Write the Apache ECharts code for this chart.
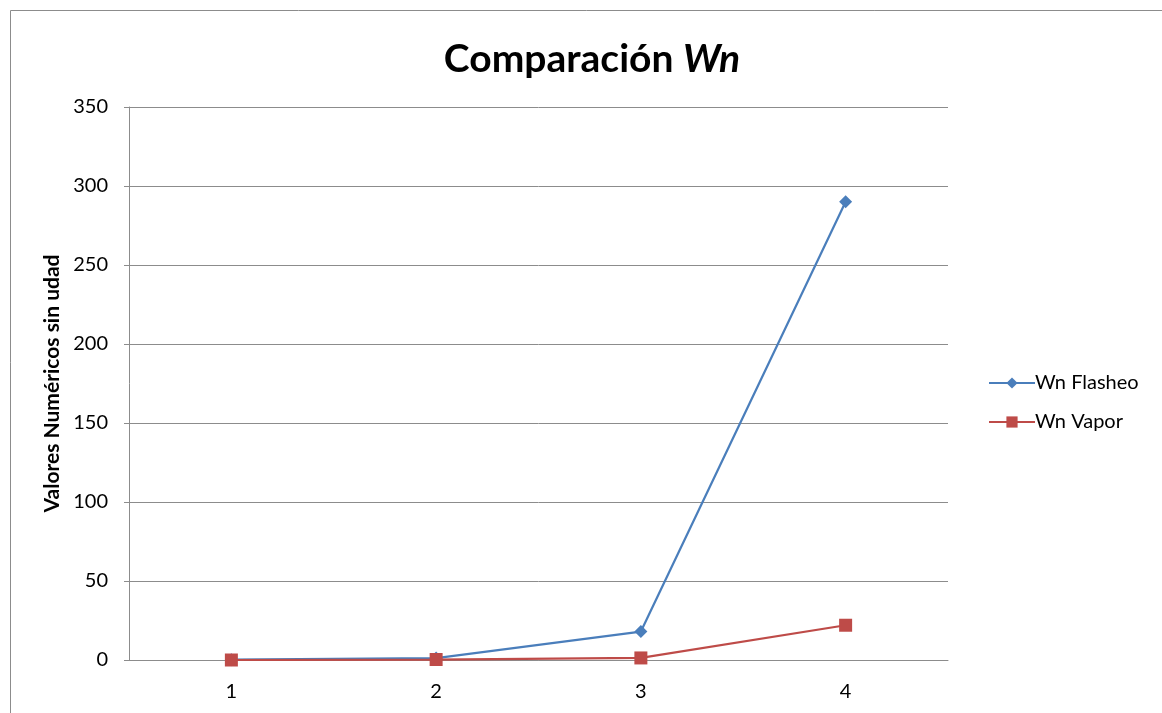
<!DOCTYPE html>
<html><head><meta charset="utf-8">
<script src="https://cdn.jsdelivr.net/npm/echarts@6/dist/echarts.min.js"></script>
<style>html,body{margin:0;padding:0;background:#fff}#c{width:1162px;height:713px}</style>
</head><body><div id="c"></div>
<script>
const categories = ['1', '2', '3', '4'];
const flasheo = [0.2, 1.2, 18, 290];
const vapor = [0, 0.3, 1.3, 22];
const seriesNames = ['Wn Flasheo', 'Wn Vapor'];
const FONT = 'Lato, "Open Sans", "Liberation Sans", sans-serif';

const chart = echarts.init(document.getElementById('c'));
chart.setOption({
  animation: false,
  backgroundColor: '#fff',
  graphic: [{
    type: 'rect', shape: {x: 10.5, y: 10.5, width: 1170, height: 720},
    style: {fill: 'none', stroke: '#8c8c8c', lineWidth: 1}
  }],
  title: {
    text: '{b|Comparación }{i|Wn}',
    left: 587, top: 35, textAlign: 'center',
    textStyle: {
      rich: {
        b: {fontFamily: FONT, fontWeight: 'bold', fontSize: 39, color: '#000'},
        i: {fontFamily: FONT, fontWeight: 'bold', fontStyle: 'italic', fontSize: 39, color: '#000'}
      }
    }
  },
  legend: {
    orient: 'vertical', left: 983, top: 368, itemGap: 19,
    itemWidth: 46, itemHeight: 14,
    textStyle: {fontFamily: FONT, fontSize: 20, color: '#000', padding: [0, 0, 0, -5]},
    data: seriesNames
  },
  grid: {left: 129, right: 214, top: 107, bottom: 53},
  xAxis: {
    type: 'category', data: categories, boundaryGap: true,
    axisLine: {lineStyle: {color: '#8c8c8c', width: 1}},
    axisTick: {show: false},
    axisLabel: {fontFamily: FONT, fontSize: 20, color: '#000', margin: 22}
  },
  yAxis: {
    type: 'value', min: 0, max: 350, interval: 50,
    name: 'Valores Numéricos sin udad', nameLocation: 'middle', nameGap: 63, nameRotate: 90,
    nameTextStyle: {fontFamily: FONT, fontWeight: 'bold', fontSize: 21, color: '#000'},
    axisLine: {show: true, lineStyle: {color: '#8c8c8c', width: 1}},
    axisTick: {show: true, length: 5, lineStyle: {color: '#8c8c8c'}},
    axisLabel: {fontFamily: FONT, fontSize: 20, color: '#000', margin: 21},
    splitLine: {lineStyle: {color: '#8c8c8c', width: 1}}
  },
  series: [
    {name: seriesNames[0], type: 'line', data: flasheo, symbol: 'diamond', symbolSize: 13,
     itemStyle: {color: '#4a7ebb'}, lineStyle: {color: '#4a7ebb', width: 2.2}, z: 3},
    {name: seriesNames[1], type: 'line', data: vapor, symbol: 'rect', symbolSize: 13,
     itemStyle: {color: '#be4b48'}, lineStyle: {color: '#be4b48', width: 2.2}, z: 4}
  ]
});
</script></body></html>
